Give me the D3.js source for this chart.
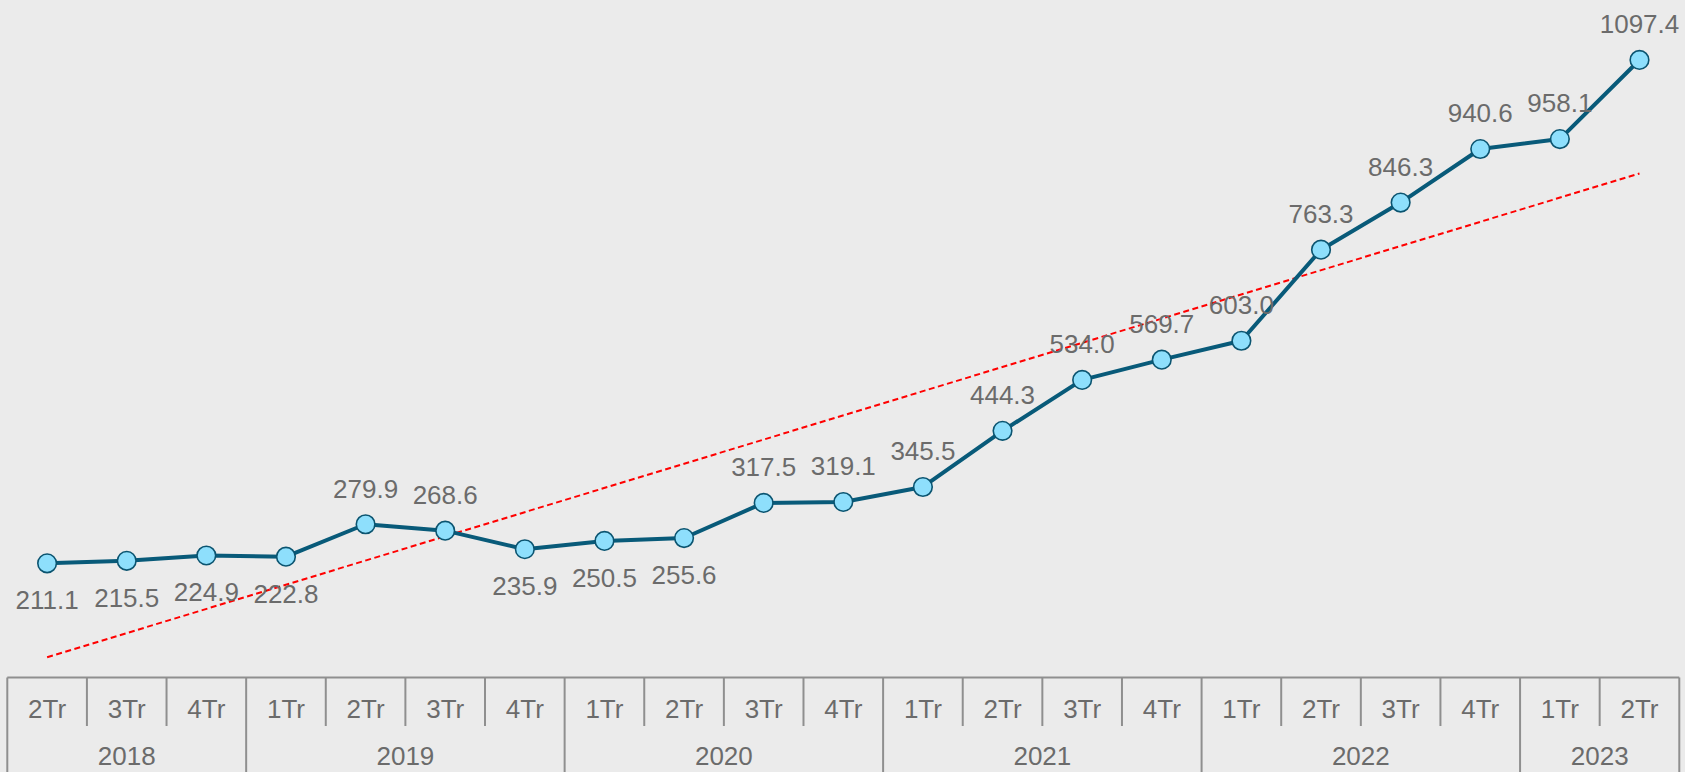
<!DOCTYPE html>
<html>
<head>
<meta charset="utf-8">
<script src="https://cdn.jsdelivr.net/npm/d3@7"></script>
<style>
  html, body { margin: 0; padding: 0; background: #ebebeb; }
  svg { display: block; }
  text { font-family: "Liberation Sans", Arial, sans-serif; }
</style>
</head>
<body>
<svg id="chart" width="1685" height="772"></svg>
<script>
// ---- data ----
const quarters = ["2Tr","3Tr","4Tr","1Tr","2Tr","3Tr","4Tr","1Tr","2Tr","3Tr","4Tr","1Tr","2Tr","3Tr","4Tr","1Tr","2Tr","3Tr","4Tr","1Tr","2Tr"];
const years    = ["2018","2018","2018","2019","2019","2019","2019","2020","2020","2020","2020","2021","2021","2021","2021","2022","2022","2022","2022","2023","2023"];
const values   = [211.1,215.5,224.9,222.8,279.9,268.6,235.9,250.5,255.6,317.5,319.1,345.5,444.3,534.0,569.7,603.0,763.3,846.3,940.6,958.1,1097.4];
const labelBelow = [true,true,true,true,false,false,true,true,true,false,false,false,false,false,false,false,false,false,false,false,false];

const W = 1685, H = 772;
const svg = d3.select("#chart");
svg.append("rect").attr("width", W).attr("height", H).attr("fill", "#ebebeb");

const ids = values.map((_, i) => i);
const x = d3.scaleBand().domain(ids).range([7.3, 1679.3]).padding(0);
const cx = i => x(i) + x.bandwidth() / 2;
const y = d3.scaleLinear().domain([0, 1200]).range([683.2, 1.7]);

// ---- trend line (least squares) ----
const n = values.length;
const mx = d3.mean(ids), my = d3.mean(values);
const slope = d3.sum(ids, i => (i - mx) * (values[i] - my)) / d3.sum(ids, i => (i - mx) ** 2);
const icpt = my - slope * mx;
svg.append("line")
  .attr("x1", cx(0)).attr("y1", y(icpt))
  .attr("x2", cx(n - 1)).attr("y2", y(icpt + slope * (n - 1)))
  .attr("stroke", "#ff0000").attr("stroke-width", 2)
  .attr("stroke-dasharray", "6,3.5");

// ---- series line ----
const line = d3.line().x(i => cx(i)).y(i => y(values[i]));
svg.append("path").datum(ids)
  .attr("d", line).attr("fill", "none")
  .attr("stroke", "#085a79").attr("stroke-width", 4)
  .attr("stroke-linejoin", "round");

// ---- markers ----
svg.selectAll("circle.pt").data(ids).join("circle")
  .attr("class", "pt")
  .attr("cx", i => cx(i)).attr("cy", i => y(values[i]))
  .attr("r", 9.3)
  .attr("fill", "#8edffc").attr("stroke", "#0b5470").attr("stroke-width", 1.6);

// ---- data labels ----
svg.selectAll("text.lbl").data(ids).join("text")
  .attr("class", "lbl")
  .attr("x", i => cx(i))
  .attr("y", i => y(values[i]) + (labelBelow[i] ? 46 : -26.7))
  .attr("text-anchor", "middle")
  .attr("font-size", 26)
  .attr("fill", "#6b6b6b")
  .text(i => values[i].toFixed(1));

// ---- category axis ----
const axisTop = 677.5;
const axisCol = "#8f8f8f";
const ax = svg.append("g");
ax.append("line").attr("x1", x.range()[0]).attr("x2", x.range()[1])
  .attr("y1", axisTop).attr("y2", axisTop)
  .attr("stroke", axisCol).attr("stroke-width", 2);

const bounds = ids.concat([n]);
ax.selectAll("line.b").data(bounds).join("line")
  .attr("class", "b")
  .attr("x1", i => i < n ? x(i) : x.range()[1])
  .attr("x2", i => i < n ? x(i) : x.range()[1])
  .attr("y1", axisTop)
  .attr("y2", i => (i === 0 || i === n || years[i] !== years[i - 1]) ? H : 726)
  .attr("stroke", axisCol).attr("stroke-width", 2);

ax.selectAll("text.q").data(ids).join("text")
  .attr("class", "q")
  .attr("x", i => cx(i)).attr("y", 718.3)
  .attr("text-anchor", "middle").attr("font-size", 26)
  .attr("fill", "#6b6b6b")
  .text(i => quarters[i]);

const yearGroups = d3.groups(ids, i => years[i]);
ax.selectAll("text.y").data(yearGroups).join("text")
  .attr("class", "y")
  .attr("x", g => (x(g[1][0]) + x(g[1][g[1].length - 1]) + x.bandwidth()) / 2)
  .attr("y", 765)
  .attr("text-anchor", "middle").attr("font-size", 26)
  .attr("fill", "#6b6b6b")
  .text(g => g[0]);
</script>
</body>
</html>
